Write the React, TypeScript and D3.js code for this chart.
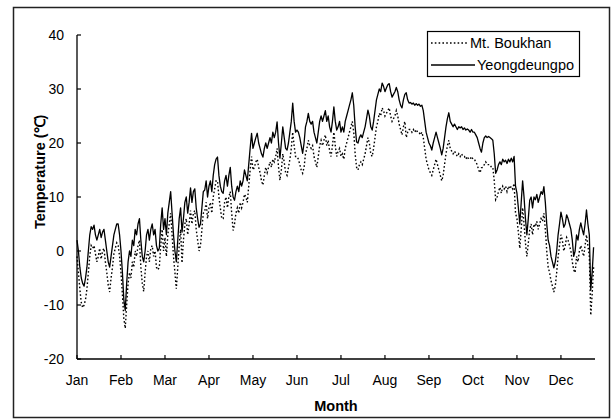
import React from "react";
import * as d3 from "d3";

const MONTHS = ["Jan", "Feb", "Mar", "Apr", "May", "Jun", "Jul", "Aug", "Sep", "Oct", "Nov", "Dec"];
const MONTH_TICK_DAYS = [0, 31, 62, 93, 124, 155, 186, 217, 248, 279, 310, 341];
const Y_TICKS = [-20, -10, 0, 10, 20, 30, 40];
const SERIES_NAMES = ["Mt. Boukhan", "Yeongdeungpo"];

// Yeongdeungpo (solid) daily mean temperature
const YEONGDEUNGPO = [
  2, 0, -3, -5, -6, -6.5, -5, -3, 0, 3, 4.5, 4, 4.8, 3, 2, 3, 4, 2.5, 3.5, 4, 2, 0, -2, -3, -1, 1, 3, 4, 5, 5, 3,
  0, -4, -9, -11, -6, -2, 0, -1, 2, 1, 4, 3, 5, 6, 2, -1, -2, 0, 3, 4, 2, 4, 5, 3, 4, 1, 0, 0.5, 5, 8, 4,
  6, 3, 7, 9, 11, 7, 3, 0, -2, 2, 6, 8, 3.5, 6, 9, 10, 7, 9, 11.7, 9, 11, 11.5, 8, 6, 4.4, 5, 8, 11, 11.3, 13, 10,
  12, 13, 11, 14, 16, 17, 17.4, 14, 12, 11, 10.7, 13, 14, 12, 14, 15.5, 12, 10, 9.4, 11, 12, 11, 13, 12, 13, 15, 14, 13, 16, 19, 21.8,
  19, 20, 21, 21.8, 20, 19, 18, 17.4, 19, 20, 19, 20, 21, 20, 22, 21, 22, 23.9, 20, 17.2, 20, 23, 21, 19, 18.7, 20, 22, 24, 27.4, 24, 22,
  22.4, 22, 21, 19.5, 18.1, 20, 23, 24, 25.5, 24, 23.5, 24, 22, 21, 20, 22, 24, 25, 24, 25, 26, 24, 25, 23, 22, 24, 26.7, 24, 22.4, 23,
  24, 22, 23, 22, 24, 25, 26, 27, 28, 29.3, 27, 23, 20.2, 20, 21, 21.5, 21, 22, 23, 24.5, 26.1, 25, 23, 22.4, 24, 26, 28, 29, 30, 29.5, 31.1,
  30.5, 29.5, 30.2, 30.8, 31, 29.5, 28.5, 29, 29.5, 30.3, 29.5, 28, 27, 26.5, 28, 29, 29.3, 28, 27.4, 27.5, 27.2, 27.4, 27, 27.3, 27, 27.2, 26.8, 27, 26, 24, 22,
  21, 20, 19.5, 18.7, 20, 21, 22, 21, 20, 19, 17.8, 19, 21, 23, 24.5, 25.6, 24, 23.5, 23, 23.5, 23, 22.5, 23, 22.8, 23, 22.5, 22.8, 22.4, 22.6, 22.4,
  22, 22.5, 22, 22, 21.5, 21, 20, 19, 18.3, 20, 21, 21.3, 21, 21.2, 21, 20.8, 20.5, 18, 14.4, 15, 16, 16.5, 16, 17, 16.5, 16.8, 16.2, 17, 16.5, 17.2, 16.5,
  17.5, 12, 10.7, 8, 5, 9, 13, 10, 6, 3, 6, 9.4, 10, 8, 10, 9.5, 10.5, 9, 10, 11, 10.5, 11.9, 9, 5, 2, 1, -1, -2, -3.1, -2, 0,
  3, 5, 7.2, 6, 4.4, 5, 6.7, 6, 5, 4, 2, -1, 0, 3, 2, 4, 5.2, 4, 3, 5, 7.6, 5, 3, -7.2, -4, 0.7,
];

// Mt. Boukhan (dotted) daily mean temperature
const MT_BOUKHAN = [
  -1, -4, -7, -9.5, -10.5, -10, -9, -7, -4, -1, 1, 0.5, 1, -0.5, -2, -1, 0.5, -1.5, 0, 0.5, -2, -4, -6.3, -7.6, -5, -3, -0.5, 0.5, 1.5, 1, -1,
  -4, -8, -12.5, -14.3, -10, -6, -4, -5, -2, -3, 0, -1, 1, 2, -3, -6, -7.5, -4, -1, 0, -2, 0.5, 1, -1, 0, -3, -3.5, -3, 1, 4, 0,
  2.5, -1, 3, 5, 7, 3, -1, -4, -7, -3, 1, 4, -2.2, 2, 5, 6, 3, 5, 7.5, 5, 7, 7.5, 4, 2, 0, 1, 4, 7, 7.3, 9, 6,
  8, 9, 7, 10, 11.5, 13, 13, 10, 8, 6, 6, 9, 10, 8, 10, 11, 7, 3.8, 5, 7, 8, 7, 9, 8, 9, 10.5, 10, 9, 12, 15, 17.5,
  15, 15.5, 16.5, 17, 15.5, 14.5, 13, 12.2, 14, 15.5, 14.5, 15.5, 16.5, 15.5, 17, 16.5, 17.5, 19, 15.5, 13.1, 15, 18, 16.5, 14.5, 14, 15.5, 17, 19, 22, 19.5, 17.5,
  17.5, 17, 16, 15, 14.4, 15.5, 18, 19, 20.5, 19.5, 19, 19.5, 17.5, 16.5, 15.5, 17.5, 19.5, 20.5, 19.5, 20.5, 21.5, 19.5, 20.5, 18.5, 17.5, 19.5, 22, 19.5, 17.5, 18.5,
  19, 17.5, 18, 17, 19, 20, 21, 22, 23, 24, 22, 18, 15.5, 15, 16, 16.5, 16, 17, 18, 19.5, 21, 20, 18, 17.5, 19, 21, 23, 24, 25.5, 25, 26.5,
  26, 25, 25.5, 26, 26.5, 25, 24, 24.5, 25, 26, 25, 23.5, 22.5, 21.5, 23, 24, 21, 22, 22.5, 22.5, 22, 22.5, 22, 22.5, 22, 22, 21.5, 22, 21, 19, 17,
  16, 15, 14.5, 14, 15, 16, 17, 16, 15, 14, 13, 14, 16, 18, 19.5, 20.5, 19, 18.5, 18, 18.5, 18, 17.5, 18, 17.5, 18, 17.5, 17.5, 17, 17.5, 17,
  17, 17.5, 17, 17, 16.5, 16, 15, 14.5, 15.4, 15.5, 16, 16.5, 16, 16, 16, 15.5, 15.5, 13, 9.5, 10, 11, 11.8, 10.7, 12, 11.5, 12, 11, 12, 11.5, 12, 11.5,
  12.5, 7, 6, 3.5, 0.5, 4, 8, 5, 1.5, -1, 1.5, 3.9, 5, 3, 5, 4.5, 5.5, 4, 5, 6, 5.5, 7, 4, 0, -3, -4, -5.5, -6.5, -7.6, -6.5, -4,
  -1, 1, 3, 2, 0, 1, 2.5, 2, 1, 0, -2, -3.5, -4, -1, -2, 0, 1, 0, -1, 1, 3, 1, -1, -11.9, -8, -3,
];

const FONT = "'Liberation Sans', Arial, Helvetica, sans-serif";

export default function App() {
  const W = 613;
  const H = 420;
  const left = 77;
  const right = 595;
  const top = 35;
  const bottom = 359;

  const x = d3.scaleLinear().domain([0, 365]).range([left, right]);
  const y = d3.scaleLinear().domain([-20, 40]).range([bottom, top]);

  const line = d3
    .line<number>()
    .x((_, i) => x(i))
    .y((v) => y(v));

  return (
    <svg
      width={W}
      height={H}
      viewBox={`0 0 ${W} ${H}`}
      style={{ position: "absolute", left: 0, top: 0, background: "#fff" }}
    >
      <rect x={0} y={0} width={W} height={H} fill="#fff" />
      {/* outer frame */}
      <rect x={13.5} y={7.5} width={596} height={410} fill="none" stroke="#222" strokeWidth={1.5} />

      {/* data */}
      <path d={line(MT_BOUKHAN) || ""} fill="none" stroke="#000" strokeWidth={1.4} strokeDasharray="1.6 2.2" />
      <path d={line(YEONGDEUNGPO) || ""} fill="none" stroke="#000" strokeWidth={1.3} strokeLinejoin="round" />

      {/* axes */}
      <line x1={left} x2={left} y1={top} y2={bottom} stroke="#000" strokeWidth={1.3} />
      <line x1={left} x2={right} y1={bottom} y2={bottom} stroke="#000" strokeWidth={1.3} />

      {Y_TICKS.map((t) => (
        <g key={t}>
          <line x1={left} x2={left + 4} y1={y(t)} y2={y(t)} stroke="#000" strokeWidth={1.2} />
          <text
            x={64}
            y={y(t)}
            textAnchor="end"
            dominantBaseline="central"
            fontFamily={FONT}
            fontSize={14}
            fill="#000"
          >
            {t}
          </text>
        </g>
      ))}

      {MONTH_TICK_DAYS.map((d, i) => (
        <g key={d}>
          <line x1={x(d)} x2={x(d)} y1={bottom} y2={bottom - 4} stroke="#000" strokeWidth={1.2} />
          <text x={x(d)} y={384.5} textAnchor="middle" fontFamily={FONT} fontSize={14} fill="#000">
            {MONTHS[i]}
          </text>
        </g>
      ))}

      {/* axis titles */}
      <text
        x={(left + right) / 2}
        y={410.5}
        textAnchor="middle"
        fontFamily={FONT}
        fontSize={14.5}
        fontWeight="bold"
        fill="#000"
      >
        Month
      </text>
      <text
        transform="translate(45,229) rotate(-90)"
        textAnchor="start"
        fontFamily={FONT}
        fontSize={14.5}
        fontWeight="bold"
        fill="#000"
      >
        Temperature (℃)
      </text>

      {/* legend */}
      <rect x={427.5} y={31.5} width={152} height={45} fill="#fff" stroke="#000" strokeWidth={1.2} />
      <line x1={431} x2={468} y1={43} y2={43} stroke="#000" strokeWidth={1.4} strokeDasharray="1.6 2.2" />
      <text x={470} y={43} dominantBaseline="central" fontFamily={FONT} fontSize={14.5} fill="#000">
        {SERIES_NAMES[0]}
      </text>
      <line x1={431} x2={475} y1={65} y2={65} stroke="#000" strokeWidth={1.3} />
      <text x={477} y={65} dominantBaseline="central" fontFamily={FONT} fontSize={14.5} fill="#000">
        {SERIES_NAMES[1]}
      </text>
    </svg>
  );
}
